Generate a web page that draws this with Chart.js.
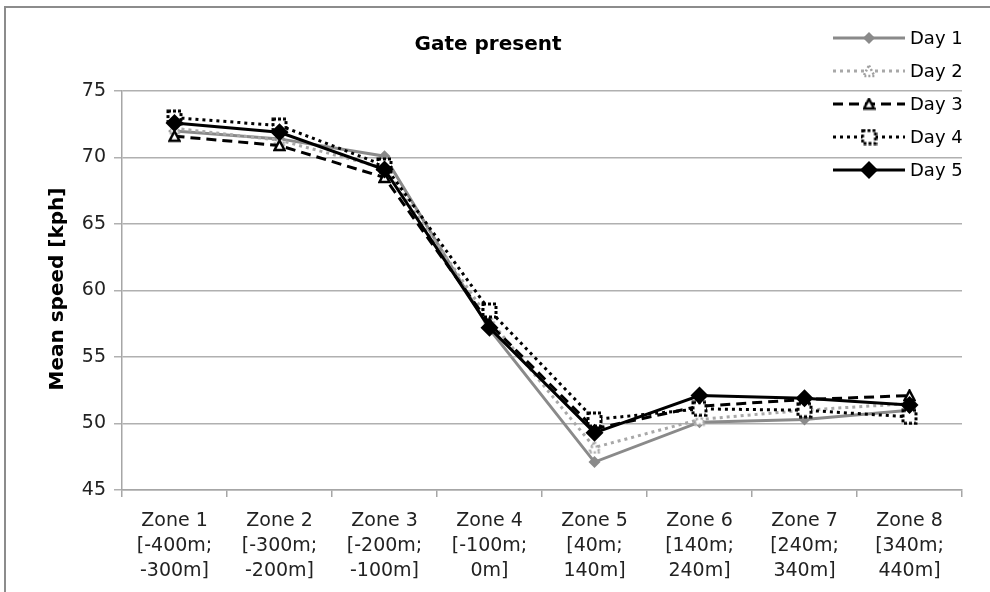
<!DOCTYPE html>
<html>
<head>
<meta charset="utf-8">
<script src="https://cdn.jsdelivr.net/npm/chart.js@4/dist/chart.umd.min.js"></script>
<style>
html, body { margin: 0; padding: 0; background: #fff; }
#wrap { position: relative; width: 990px; height: 592px; overflow: hidden; }
#frame { position: absolute; left: 4px; top: 6px; width: 1000px; height: 600px;
         border-left: 2px solid #8c8c8c; border-top: 2px solid #8c8c8c; }
#chart { position: absolute; left: 0; top: 0; }
</style>
</head>
<body>
<div id="wrap">
  <div id="frame"></div>
  <canvas id="chart" width="990" height="592"></canvas>
</div>
<script>
// datos
const zones = [
  ['Zone 1', '[-400m;', '-300m]'],
  ['Zone 2', '[-300m;', '-200m]'],
  ['Zone 3', '[-200m;', '-100m]'],
  ['Zone 4', '[-100m;', '0m]'],
  ['Zone 5', '[40m;', '140m]'],
  ['Zone 6', '[140m;', '240m]'],
  ['Zone 7', '[240m;', '340m]'],
  ['Zone 8', '[340m;', '440m]']
];
const day1 = [72.0, 71.4, 70.1, 57.1, 47.1, 50.1, 50.3, 51.0];
const day2 = [72.2, 71.3, 69.2, 57.8, 48.2, 50.3, 51.0, 51.5];
const day3 = [71.6, 70.9, 68.5, 57.5, 49.6, 51.3, 51.8, 52.1];
const day4 = [73.0, 72.4, 69.4, 58.5, 50.3, 51.1, 51.0, 50.5];
const day5 = [72.6, 71.9, 69.1, 57.2, 49.3, 52.1, 51.9, 51.4];
const yTicks = [45, 50, 55, 60, 65, 70, 75];

const FONT = '"DejaVu Sans", Verdana, sans-serif';

// marcadores con borde punteado o blanco (Chart.js no punteará el borde del punto)
function triangleMarker(size, color, lw, dash) {
  const c = document.createElement('canvas');
  c.width = size; c.height = size;
  const g = c.getContext('2d');
  g.beginPath();
  g.moveTo(size / 2, 1.5);
  g.lineTo(size - 1.5, size - 2);
  g.lineTo(1.5, size - 2);
  g.closePath();
  g.fillStyle = '#fff';
  g.fill();
  g.setLineDash(dash);
  g.lineWidth = lw;
  g.strokeStyle = color;
  g.stroke();
  return c;
}
function squareMarker(size, color, lw, dash) {
  const c = document.createElement('canvas');
  c.width = size; c.height = size;
  const g = c.getContext('2d');
  g.fillStyle = '#fff';
  g.fillRect(2, 2, size - 4, size - 4);
  g.setLineDash(dash);
  g.lineWidth = lw;
  g.strokeStyle = color;
  g.strokeRect(2, 2, size - 4, size - 4);
  return c;
}

const mark2 = triangleMarker(14, '#a0a0a0', 2.5, [2, 2]);
const mark3 = triangleMarker(13, '#000', 2.5, []);
const mark4 = squareMarker(17, '#000', 3, [3, 2]);

// leyenda, título y título del eje dibujados a mano
const extras = {
  id: 'extras',
  afterDraw(chart) {
    const ctx = chart.ctx;
    ctx.save();
    ctx.fillStyle = '#000';
    ctx.font = 'bold 20px ' + FONT;
    ctx.textAlign = 'center';
    ctx.textBaseline = 'middle';
    ctx.fillText('Gate present', 488, 45);

    ctx.save();
    ctx.translate(58, 289);
    ctx.rotate(-Math.PI / 2);
    ctx.font = 'bold 20px ' + FONT;
    ctx.fillText('Mean speed [kph]', 0, 0);
    ctx.restore();

    chart.data.datasets.forEach((ds, i) => {
      const y = 38 + i * 33;
      ctx.save();
      ctx.beginPath();
      ctx.setLineDash(ds.borderDash || []);
      ctx.lineCap = 'butt';
      ctx.lineWidth = ds.borderWidth;
      ctx.strokeStyle = ds.borderColor;
      ctx.moveTo(833, y);
      ctx.lineTo(905, y);
      ctx.stroke();
      ctx.restore();
      if (ds.pointStyle === 'rectRot') {
        const r = ds.pointRadius;
        ctx.beginPath();
        ctx.moveTo(869, y - r); ctx.lineTo(869 + r, y);
        ctx.lineTo(869, y + r); ctx.lineTo(869 - r, y);
        ctx.closePath();
        ctx.fillStyle = ds.pointBackgroundColor;
        ctx.fill();
      } else {
        const im = ds.pointStyle;
        ctx.drawImage(im, 869 - im.width / 2, y - im.height / 2);
      }
      ctx.fillStyle = '#000';
      ctx.font = '18px ' + FONT;
      ctx.textAlign = 'left';
      ctx.fillText(ds.label, 910, y + 1);
    });
    ctx.restore();
  }
};

new Chart(document.getElementById('chart'), {
  type: 'line',
  data: {
    labels: zones,
    datasets: [
      { label: 'Day 1', data: day1, order: 4, borderColor: '#8a8a8a', borderWidth: 3,
        pointStyle: 'rectRot', pointRadius: 6, pointBackgroundColor: '#8a8a8a', pointBorderWidth: 0 },
      { label: 'Day 2', data: day2, order: 3, borderColor: '#a8a8a8', borderWidth: 3, borderDash: [3, 4],
        pointStyle: mark2, pointRadius: 7 },
      { label: 'Day 3', data: day3, order: 2, borderColor: '#000', borderWidth: 3, borderDash: [10, 6],
        pointStyle: mark3, pointRadius: 7 },
      { label: 'Day 4', data: day4, order: 1, borderColor: '#000', borderWidth: 3, borderDash: [3, 4],
        pointStyle: mark4, pointRadius: 9 },
      { label: 'Day 5', data: day5, order: 0, borderColor: '#000', borderWidth: 3,
        pointStyle: 'rectRot', pointRadius: 9, pointBackgroundColor: '#000', pointBorderWidth: 0 }
    ]
  },
  options: {
    responsive: false,
    animation: false,
    layout: { padding: { top: 91, right: 28, left: 0, bottom: 0 } },
    plugins: { legend: { display: false }, title: { display: false }, tooltip: { enabled: false } },
    elements: { line: { tension: 0 } },
    scales: {
      x: {
        offset: true,
        grid: { offset: true, drawOnChartArea: false, color: '#a6a6a6', lineWidth: 1.5, tickLength: 7 },
        border: { color: '#a6a6a6', width: 1.5 },
        ticks: { color: '#222', font: { family: FONT, size: 19, lineHeight: 1.3 }, padding: 12, maxRotation: 0, autoSkip: false },
        afterFit(scale) { scale.height = 102; }
      },
      y: {
        min: 45, max: 75,
        afterBuildTicks(scale) { scale.ticks = yTicks.map(v => ({ value: v })); },
        grid: { color: '#b0b0b0', lineWidth: 1.5, tickLength: 8 },
        border: { color: '#a6a6a6', width: 1.5 },
        ticks: { color: '#222', font: { family: FONT, size: 19 }, padding: 8 },
        afterFit(scale) { scale.width = 122; }
      }
    }
  },
  plugins: [extras]
});
</script>
</body>
</html>
